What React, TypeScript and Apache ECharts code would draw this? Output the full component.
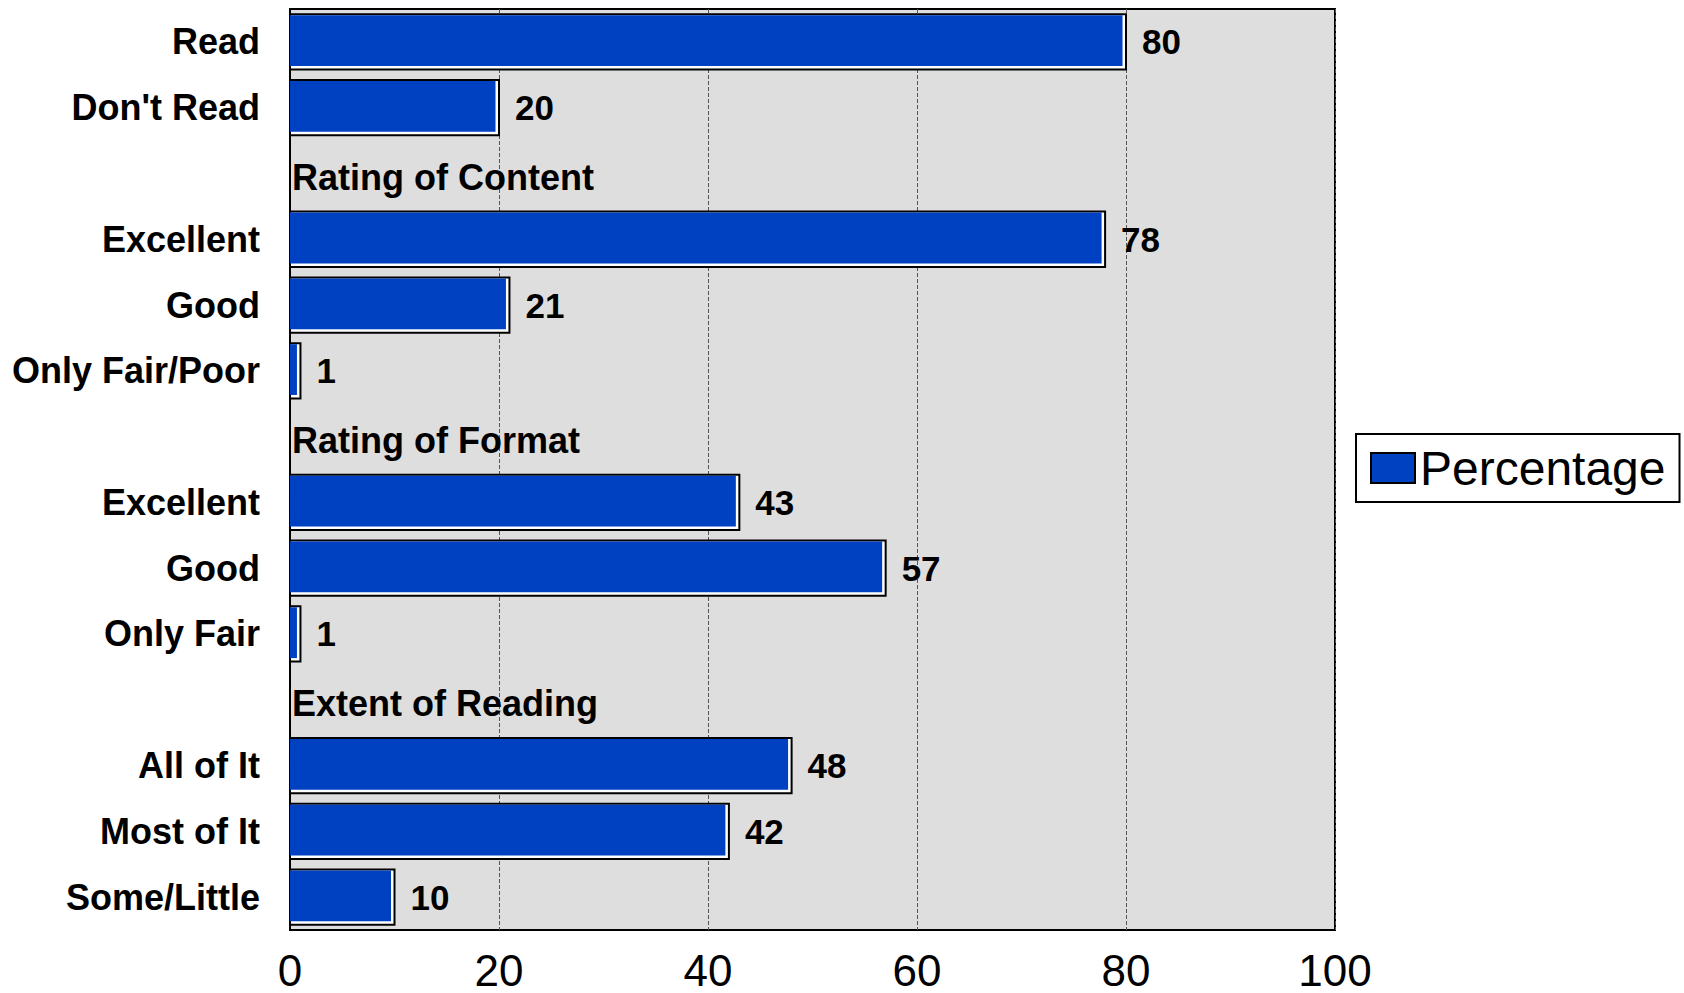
import React, { useEffect, useRef } from "react";
import * as echarts from "echarts";

const categories = ["Read", "Don't Read", "", "Excellent", "Good", "Only Fair/Poor", "", "Excellent", "Good", "Only Fair", "", "All of It", "Most of It", "Some/Little"];
const values: (number | null)[] = [80, 20, null, 78, 21, 1, null, 43, 57, 1, null, 48, 42, 10];
const sectionHeaders: (string | null)[] = [null, null, "Rating of Content", null, null, null, "Rating of Format", null, null, null, "Extent of Reading", null, null, null];
const xTicks = [0, 20, 40, 60, 80, 100];
const seriesName = "Percentage";

const SANS = "'Liberation Sans', Arial, sans-serif";
const BLUE = "#0041C2";

export default function App() {
  const ref = useRef<HTMLDivElement>(null);
  useEffect(() => {
    if (!ref.current) return;
    const chart = echarts.init(ref.current, undefined, { renderer: "svg" });
    const barData = values.map((v, i) => [v, i]);
    const headerData = sectionHeaders.map((h, i) => [0, i, h]).filter((d) => d[2] !== null);
    chart.setOption({
      animation: false,
      backgroundColor: "#ffffff",
      grid: {
        left: 290,
        right: 349,
        top: 9,
        bottom: 63,
        containLabel: false,
        outerBoundsMode: "none",
        show: true,
        backgroundColor: "#DEDEDE",
        borderColor: "#000000",
        borderWidth: 2,
      },
      legend: {
        left: 1356,
        top: 434,
        orient: "horizontal",
        data: [
          {
            name: seriesName,
            icon: "rect",
            itemStyle: { color: BLUE, borderColor: "#000", borderWidth: 2 },
          },
        ],
        itemWidth: 44,
        itemHeight: 30,
        borderColor: "#000",
        borderWidth: 2,
        padding: [10, 14, 10, 14],
        textStyle: { fontFamily: SANS, fontSize: 48, color: "#000" },
      },
      xAxis: {
        type: "value",
        min: xTicks[0],
        max: xTicks[xTicks.length - 1],
        interval: xTicks[1] - xTicks[0],
        axisLine: { show: false },
        axisTick: { show: false },
        splitLine: { show: true, lineStyle: { color: "#555", width: 1, type: [4, 2] } },
        axisLabel: { fontFamily: SANS, fontSize: 44, lineHeight: 40, color: "#000", margin: 20 },
      },
      yAxis: {
        type: "category",
        inverse: true,
        data: categories,
        axisLine: { show: true, lineStyle: { color: "#000", width: 2 } },
        axisTick: { show: false },
        splitLine: { show: false },
        axisLabel: { fontFamily: SANS, fontSize: 36, fontWeight: "bold", color: "#000", margin: 30 },
      },
      series: [
        {
          name: seriesName,
          type: "custom",
          data: barData,
          encode: { x: 0, y: 1 },
          renderItem: (params: any, api: any) => {
            const v = api.value(0);
            const idx = api.value(1);
            if (v == null || isNaN(v)) return null;
            const p0 = api.coord([0, idx]);
            const p1 = api.coord([v, idx]);
            const bh = api.size([0, 1])[1] * 0.84;
            const x = p0[0];
            const y = p0[1] - bh / 2;
            const w = p1[0] - p0[0];
            return {
              type: "group",
              children: [
                { type: "rect", shape: { x, y, width: w, height: bh }, style: { fill: "#ffffff", stroke: "#000000", lineWidth: 2 } },
                { type: "rect", shape: { x: x, y: y + 1, width: Math.max(w - 3.5, 1), height: bh - 4.5 }, style: { fill: BLUE } },
                {
                  type: "text",
                  x: p1[0] + 16,
                  y: p0[1],
                  style: { text: String(v), fontFamily: SANS, fontSize: 35, fontWeight: "bold", fill: "#000", verticalAlign: "middle", align: "left" },
                },
              ],
            };
          },
          z: 3,
        },
        {
          name: "headers",
          type: "custom",
          data: headerData,
          encode: { x: 0, y: 1 },
          renderItem: (params: any, api: any) => {
            const idx = api.value(1);
            const p0 = api.coord([0, idx]);
            const text = headerData[params.dataIndex][2] as string;
            return {
              type: "text",
              x: p0[0] + 2,
              y: p0[1] + 4,
              style: { text, fontFamily: SANS, fontSize: 36, fontWeight: "bold", fill: "#000", verticalAlign: "middle", align: "left" },
            };
          },
          z: 4,
        },
      ],
    });
    return () => chart.dispose();
  }, []);
  return <div ref={ref} style={{ position: "fixed", left: 0, top: 0, width: 1684, height: 993 }} />;
}
